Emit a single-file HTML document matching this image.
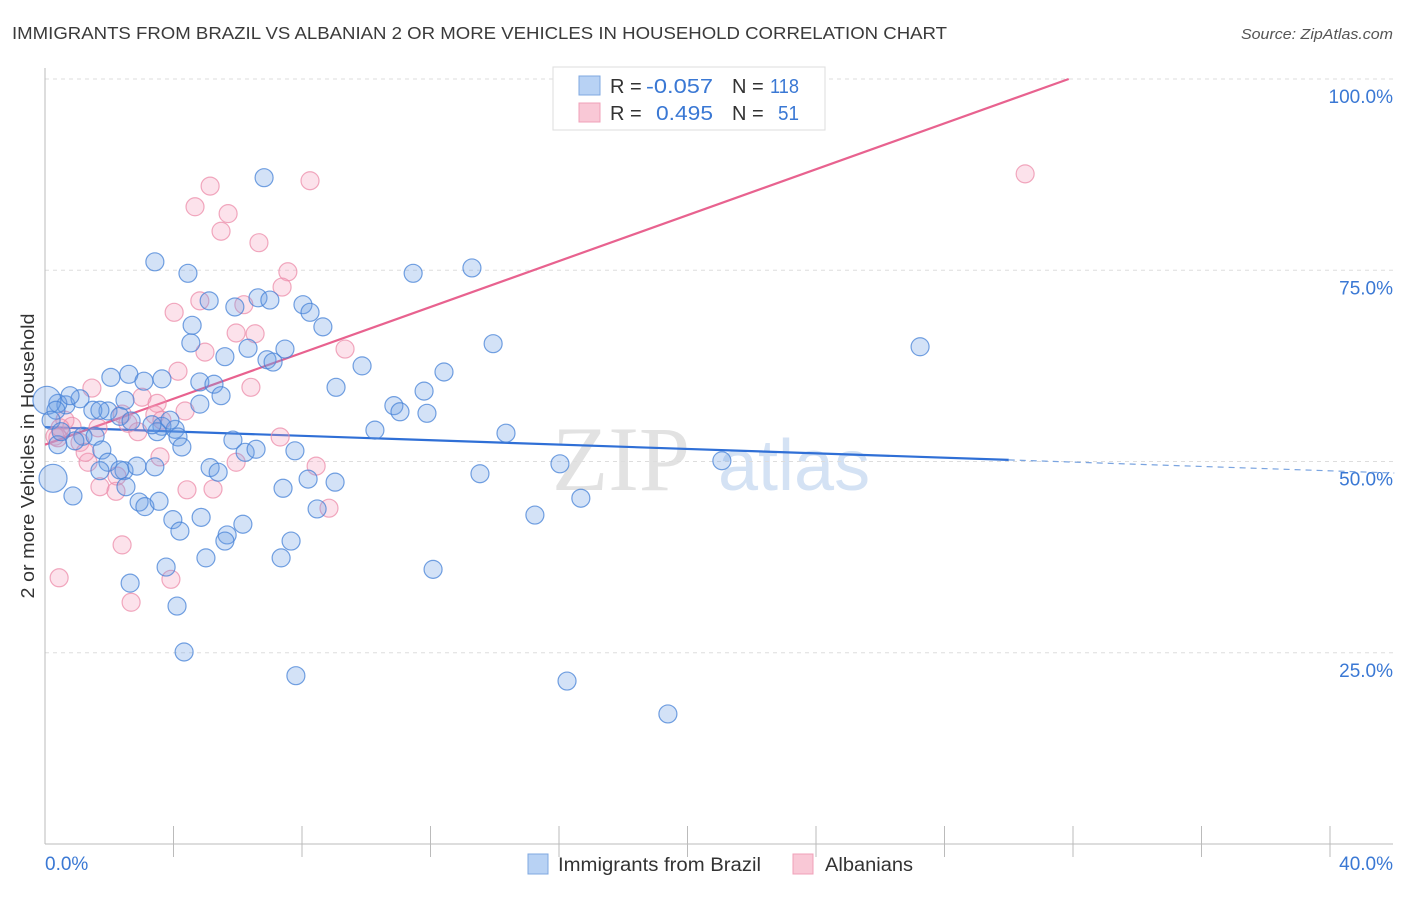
<!DOCTYPE html>
<html><head><meta charset="utf-8"><style>
body{margin:0;background:#fff;font-family:"Liberation Sans",sans-serif;}
svg text{font-family:"Liberation Sans",sans-serif;}
</style></head><body>
<svg id="chart" width="1406" height="892">
<text x="12" y="39" font-size="17.5" fill="#3a3a3a" textLength="935" lengthAdjust="spacingAndGlyphs">IMMIGRANTS FROM BRAZIL VS ALBANIAN 2 OR MORE VEHICLES IN HOUSEHOLD CORRELATION CHART</text>
<text x="1241" y="39" font-size="15" fill="#555" font-style="italic" textLength="152" lengthAdjust="spacingAndGlyphs">Source: ZipAtlas.com</text>
<text transform="translate(34,456) rotate(-90)" font-size="18" fill="#333" text-anchor="middle" textLength="285" lengthAdjust="spacingAndGlyphs">2 or more Vehicles in Household</text>
<g><text x="552" y="490" font-size="92" fill="#e2e2e2" font-family="Liberation Serif" style="font-family:'Liberation Serif',serif">ZIP</text><text x="718" y="490" font-size="72" fill="#d4e2f4">atlas</text></g>
<g id="grid"></g><g id="axes"></g><g id="lines"></g><g id="pts"></g>
<g>
<rect x="553" y="67" width="272" height="63" fill="#fff" stroke="#ddd"/>
<rect x="579" y="76" width="21" height="19" fill="#b8d2f4" stroke="#7fa8e0"/>
<rect x="579" y="103" width="21" height="19" fill="#f9c8d6" stroke="#f0a0b8"/>
<text x="610" y="93" font-size="20" fill="#333">R =</text>
<text x="646" y="93" font-size="20" fill="#3a78d4" textLength="67" lengthAdjust="spacingAndGlyphs">-0.057</text>
<text x="732" y="93" font-size="20" fill="#333">N =</text>
<text x="770" y="93" font-size="20" fill="#3a78d4" textLength="29" lengthAdjust="spacingAndGlyphs">118</text>
<text x="610" y="120" font-size="20" fill="#333">R =</text>
<text x="656" y="120" font-size="20" fill="#3a78d4" textLength="57" lengthAdjust="spacingAndGlyphs">0.495</text>
<text x="732" y="120" font-size="20" fill="#333">N =</text>
<text x="778" y="120" font-size="20" fill="#3a78d4" textLength="21" lengthAdjust="spacingAndGlyphs">51</text>
</g>
<g>
<rect x="528" y="854" width="20" height="20" fill="#b8d2f4" stroke="#7fa8e0"/>
<text x="558" y="871" font-size="19" fill="#333" textLength="203" lengthAdjust="spacingAndGlyphs">Immigrants from Brazil</text>
<rect x="793" y="854" width="20" height="20" fill="#f9c8d6" stroke="#f0a0b8"/>
<text x="825" y="871" font-size="19" fill="#333" textLength="88" lengthAdjust="spacingAndGlyphs">Albanians</text>
</g>
</svg>
<script>
const yTicks=[25,50,75,100];
const yTickLabels=["25.0%","50.0%","75.0%","100.0%"];
const xTicks=[0,4,8,12,16,20,24,28,32,36,40];
const brazilX=[6.82,3.42,4.45,11.46,13.29,5.11,5.91,6.63,7.00,8.03,8.25,8.65,4.58,4.54,6.32,7.47,5.60,6.91,7.10,13.95,27.24,9.87,12.42,9.06,4.82,5.26,2.05,2.61,3.64,3.08,5.48,4.82,11.80,10.86,11.05,11.89,10.27,14.35,1.96,2.49,1.49,0.65,1.09,0.40,0.06,0.78,1.71,2.33,0.34,2.68,3.64,4.05,3.49,3.33,3.89,1.18,1.56,0.93,0.40,0.19,0.50,5.85,6.23,6.57,4.14,4.26,7.78,13.54,16.03,21.07,1.77,1.96,2.46,2.33,2.86,3.42,5.14,5.39,1.71,0.25,0.87,2.52,2.93,3.11,3.55,7.41,8.19,9.03,15.25,16.68,4.86,3.98,4.20,6.16,5.67,5.60,7.66,5.01,3.77,7.35,12.08,2.65,4.11,4.33,7.81,16.25,19.39,8.47];
const brazilY=[87.1,76.1,74.6,74.6,75.3,71.0,70.2,71.4,71.1,70.5,69.5,67.6,67.8,65.5,64.8,64.7,63.7,63.3,63.0,65.4,65.0,62.5,61.7,59.7,60.4,60.1,61.0,61.4,60.8,60.5,58.6,57.5,59.2,57.3,56.5,56.3,54.1,53.7,56.6,58.0,56.7,57.4,58.2,57.6,58.0,58.6,56.7,55.9,56.7,55.3,54.6,54.2,53.9,54.8,55.4,53.3,53.3,52.7,52.2,55.4,53.9,52.8,51.2,51.6,53.2,51.9,51.4,48.4,49.7,50.1,51.5,49.9,48.8,48.9,49.4,49.3,49.2,48.6,48.8,47.8,45.5,46.7,44.7,44.1,44.8,46.5,47.7,47.3,43.0,45.2,42.7,42.4,40.9,41.8,40.4,39.6,39.6,37.4,36.2,37.4,35.9,34.1,31.1,25.1,22.0,21.3,17.0,43.8];
const albX=[5.14,8.25,4.67,5.70,5.48,6.66,7.56,7.38,4.82,6.19,4.02,6.54,5.95,4.98,9.34,4.14,6.41,1.46,2.40,3.02,3.49,3.42,3.64,4.36,2.58,0.62,0.84,1.65,0.31,1.09,1.34,3.58,5.95,8.44,1.25,2.24,1.71,2.21,4.42,5.23,7.32,8.84,2.40,0.44,3.92,2.68,30.51,2.89,0.40,0.47];
const albY=[86.0,86.7,83.3,82.4,80.1,78.6,74.8,72.8,71.0,70.5,69.5,66.7,66.8,64.3,64.7,61.8,59.7,59.6,56.2,58.4,57.6,56.1,55.4,56.6,55.0,55.4,54.6,54.4,53.3,52.5,49.9,50.6,49.9,49.4,51.2,48.1,46.7,46.1,46.3,46.4,53.2,43.9,39.1,34.8,34.6,31.6,87.6,53.9,53.1,54.4];
const bigBrazil=[44,79];
const brazilTrend=[54.5,-0.143];
const albTrend=[52.2,1.50];
const brazilTrendEnd=30;

const X0=45,X1=1330,Y0=844,Y100=79;
const sx=v=>X0+(v/40)*(X1-X0);
const sy=v=>Y0-(v/100)*(Y0-Y100);
const NS="http://www.w3.org/2000/svg";
function mk(tag,attrs,parent){const e=document.createElementNS(NS,tag);for(const k in attrs)e.setAttribute(k,attrs[k]);document.getElementById(parent).appendChild(e);return e;}

yTicks.forEach((t,i)=>{
  const g=mk('line',{x1:X0,x2:1393,y1:sy(t),y2:sy(t),stroke:'#ddd','stroke-dasharray':'4,4'},'grid');
  
  
  const l=mk('text',{x:1393,y:sy(t)+24,'font-size':19,fill:'#3a78d4','text-anchor':'end'},'axes');
  l.textContent=yTickLabels[i];
  
  
});
const ax=mk('line',{x1:X0,x2:X0,y1:68,y2:Y0,stroke:'#bbb'},'axes');


const bx=mk('line',{x1:X0,x2:1393,y1:Y0,y2:Y0,stroke:'#bbb'},'axes');


xTicks.forEach(t=>{
  if(t===0)return;
  const tk=mk('line',{x1:sx(t),x2:sx(t),y1:826,y2:857,stroke:'#bbb'},'axes');
  
  
});
const xl0=mk('text',{x:X0,y:870,'font-size':19,fill:'#3a78d4'},'axes');xl0.textContent='0.0%';


const xl1=mk('text',{x:1393,y:870,'font-size':19,fill:'#3a78d4','text-anchor':'end'},'axes');xl1.textContent='40.0%';



albX.forEach((x,i)=>{
  const c=mk('circle',{cx:sx(x),cy:sy(albY[i]),r:9,fill:'rgba(244,160,188,0.3)',stroke:'rgba(236,140,170,0.75)','stroke-width':1.2},'pts');
  
  
});
brazilX.forEach((x,i)=>{
  const c=mk('circle',{cx:sx(x),cy:sy(brazilY[i]),r:bigBrazil.includes(i)?14:9,fill:'rgba(110,160,230,0.3)',stroke:'rgba(70,130,215,0.75)','stroke-width':1.2},'pts');
  
  
});
const bf=x=>brazilTrend[0]+brazilTrend[1]*x;
const b1=mk('line',{x1:sx(0),y1:sy(bf(0)),x2:sx(brazilTrendEnd),y2:sy(bf(brazilTrendEnd)),stroke:'#2f6fd6','stroke-width':2.2},'lines');


const b2=mk('line',{x1:sx(brazilTrendEnd),y1:sy(bf(brazilTrendEnd)),x2:sx(42),y2:sy(bf(42)),stroke:'#7aa4e0','stroke-width':1.2,'stroke-dasharray':'6,5'},'lines');


const aEnd=(100-albTrend[0])/albTrend[1];
const a1=mk('line',{x1:sx(0),y1:sy(albTrend[0]),x2:sx(aEnd),y2:sy(100),stroke:'#e8628f','stroke-width':2.2},'lines');


</script>
</body></html>
